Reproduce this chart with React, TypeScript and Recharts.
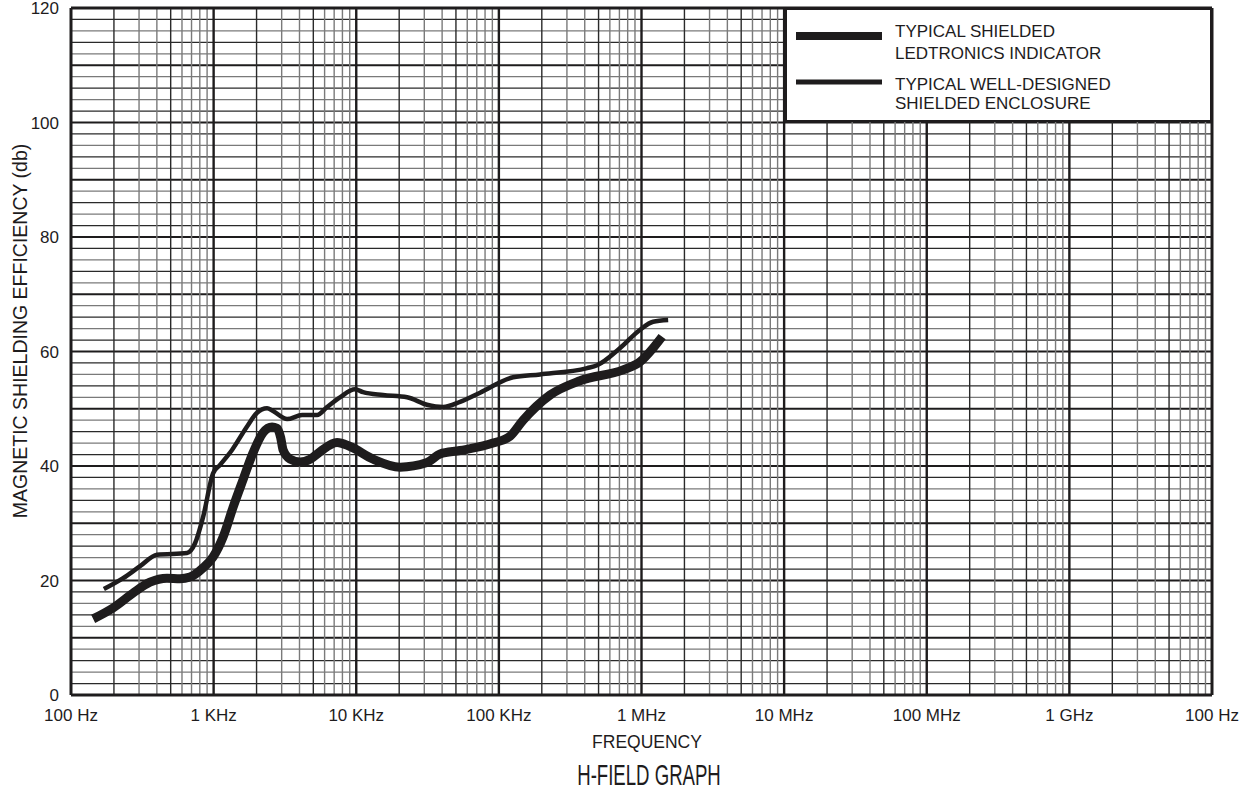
import React from "react";
import {
  LineChart,
  Line,
  XAxis,
  YAxis,
  ReferenceLine,
  Legend,
} from "recharts";

// frequency in Hz, shielding in dB
const ledFreq = [
  143, 197, 272, 358, 471, 581, 683, 843, 991, 1165, 1369, 1608, 1889, 2220,
  2569, 2784, 2950, 3069, 3437, 4038, 4746, 5576, 7335, 9057, 13130, 20290,
  31350, 38700, 53450, 91000, 119700, 147800, 228600, 370800, 742600, 977000,
  1206000, 1395000,
];
const ledDb = [
  13.3, 15.2, 17.8, 19.7, 20.4, 20.3, 20.6, 22.2, 24.1, 27.6, 32.8, 37.6, 42.3,
  45.8, 46.8, 46.6, 45.0, 42.8, 41.2, 40.7, 41.2, 42.5, 44.1, 43.4, 41.2, 39.8,
  40.6, 42.1, 42.7, 44.0, 45.2, 48.0, 52.4, 54.9, 56.8, 58.2, 60.6, 62.6,
];

const encFreq = [
  170, 232, 305, 401, 651, 741, 844, 991, 1110, 1346, 1715, 2015, 2368, 2610,
  3275, 4170, 5310, 6240, 7690, 9810, 11170, 15420, 22710, 31350, 40600, 53450,
  73800, 125900, 194500, 415900, 488700, 708000, 977000, 1206000, 1538000,
];
const encDb = [
  18.5, 20.4, 22.5, 24.5, 24.8, 26.5, 31.1, 38.7, 40.2, 42.8, 46.9, 49.3, 50.1,
  49.6, 48.2, 48.9, 48.9, 50.3, 52.0, 53.4, 52.9, 52.4, 52.0, 50.7, 50.3, 51.2,
  52.8, 55.5, 56.0, 57.1, 57.6, 60.6, 63.8, 65.2, 65.5,
];

const xTicks = [1e2, 1e3, 1e4, 1e5, 1e6, 1e7, 1e8, 1e9, 1e10];
const xTickLabels = [
  "100 Hz",
  "1 KHz",
  "10 KHz",
  "100 KHz",
  "1 MHz",
  "10 MHz",
  "100 MHz",
  "1 GHz",
  "100 Hz",
];
const yTicks = [0, 20, 40, 60, 80, 100, 120];

const legendItems = [
  { lines: ["TYPICAL SHIELDED", "LEDTRONICS INDICATOR"], width: 8 },
  { lines: ["TYPICAL WELL-DESIGNED", "SHIELDED ENCLOSURE"], width: 5 },
];

const ledData = ledFreq.map((f, i) => ({ f, v: ledDb[i] }));
const encData = encFreq.map((f, i) => ({ f, v: encDb[i] }));

// log paper grid
const minorX: { x: number; dark: boolean }[] = [];
xTicks.slice(0, -1).forEach((d) => {
  for (let m = 2; m <= 9; m++) minorX.push({ x: m * d, dark: m === 2 || m === 5 });
});
const gridY: number[] = [];
for (let v = 2; v < 120; v += 2) gridY.push(v);

const FONT = "'Liberation Sans', Arial, sans-serif";
const INK = "#1e1c1d";

function LegendBox() {
  return (
    <div
      style={{
        width: 427,
        height: 114,
        background: "#fff",
        border: `2px solid ${INK}`,
        boxSizing: "border-box",
      }}
    >
      <svg width={423} height={110} style={{ display: "block" }}>
        {legendItems.map((item, i) => (
          <g key={i}>
            <line
              x1={9}
              x2={95}
              y1={i === 0 ? 26 : 72}
              y2={i === 0 ? 26 : 72}
              stroke={INK}
              strokeWidth={item.width}
            />
            {item.lines.map((t, j) => (
              <text
                key={j}
                x={108}
                y={(i === 0 ? 26.7 : 80) + j * (i === 0 ? 22 : 19.3)}
                fontSize={17}
                fontFamily={FONT}
                fill={INK}
              >
                {t}
              </text>
            ))}
          </g>
        ))}
      </svg>
    </div>
  );
}

export default function App() {
  return (
    <div style={{ position: "absolute", left: 0, top: 0, width: 1252, height: 791, background: "#fff" }}>
      <LineChart
        width={1252}
        height={791}
        margin={{ top: 8, right: 40, left: 11, bottom: 66 }}
      >
        <XAxis
          dataKey="f"
          type="number"
          scale="log"
          domain={[1e2, 1e10]}
          ticks={xTicks}
          allowDataOverflow
          interval={0}
          height={30}
          axisLine={false}
          tickLine={false}
          tickMargin={8}
          tick={{ fontSize: 17, fontFamily: FONT, fill: INK }}
          tickFormatter={(v: number) => xTickLabels[xTicks.findIndex((t) => Math.abs(t - v) / t < 1e-6)] ?? ""}
        />
        <YAxis
          type="number"
          domain={[0, 120]}
          ticks={yTicks}
          interval={0}
          width={60}
          axisLine={false}
          tickLine={false}
          tickMargin={6}
          tick={{ fontSize: 17, fontFamily: FONT, fill: INK }}
        />
        {gridY.map((v) => (
          <ReferenceLine
            key={"h" + v}
            y={v}
            stroke={v % 10 === 0 ? INK : v % 4 === 2 ? "#2a2a2a" : "#7a7a7a"}
            strokeWidth={v % 10 === 0 ? 2.2 : 1.3}
          />
        ))}
        {minorX.map((g) => (
          <ReferenceLine
            key={"v" + g.x}
            x={g.x}
            stroke={g.dark ? "#2a2a2a" : "#7a7a7a"}
            strokeWidth={1.4}
          />
        ))}
        {xTicks.slice(1, -1).map((d) => (
          <ReferenceLine key={"d" + d} x={d} stroke={INK} strokeWidth={2.4} />
        ))}
        <ReferenceLine y={0} stroke={INK} strokeWidth={3} ifOverflow="visible" />
        <ReferenceLine y={120} stroke={INK} strokeWidth={3} ifOverflow="visible" />
        <ReferenceLine x={1e2} stroke={INK} strokeWidth={3} ifOverflow="visible" />
        <ReferenceLine x={1e10} stroke={INK} strokeWidth={3} ifOverflow="visible" />
        <Line
          data={encData}
          dataKey="v"
          type="monotone"
          stroke={INK}
          strokeWidth={4.5}
          dot={false}
          activeDot={false}
          isAnimationActive={false}
        />
        <Line
          data={ledData}
          dataKey="v"
          type="monotone"
          stroke={INK}
          strokeWidth={9}
          dot={false}
          activeDot={false}
          isAnimationActive={false}
        />
        <Legend
          layout="vertical"
          align="center"
          verticalAlign="middle"
          content={() => <LegendBox />}
          wrapperStyle={{ left: 785, top: 8, width: 427, height: 114 }}
        />
      </LineChart>
      <svg
        width={1252}
        height={791}
        style={{ position: "absolute", left: 0, top: 0, pointerEvents: "none" }}
      >
        <text
          transform="translate(27,331) rotate(-90)"
          textAnchor="middle"
          fontSize={19.5}
          fontFamily={FONT}
          fill={INK}
        >
          MAGNETIC SHIELDING EFFICIENCY (db)
        </text>
        <text x={647} y={748} textAnchor="middle" fontSize={17.5} fontFamily={FONT} fill={INK}>
          FREQUENCY
        </text>
        <text
          transform="translate(649,785) scale(0.62,1)"
          textAnchor="middle"
          fontSize={30}
          fontFamily={FONT}
          fill={INK}
        >
          H-FIELD GRAPH
        </text>
      </svg>
    </div>
  );
}
